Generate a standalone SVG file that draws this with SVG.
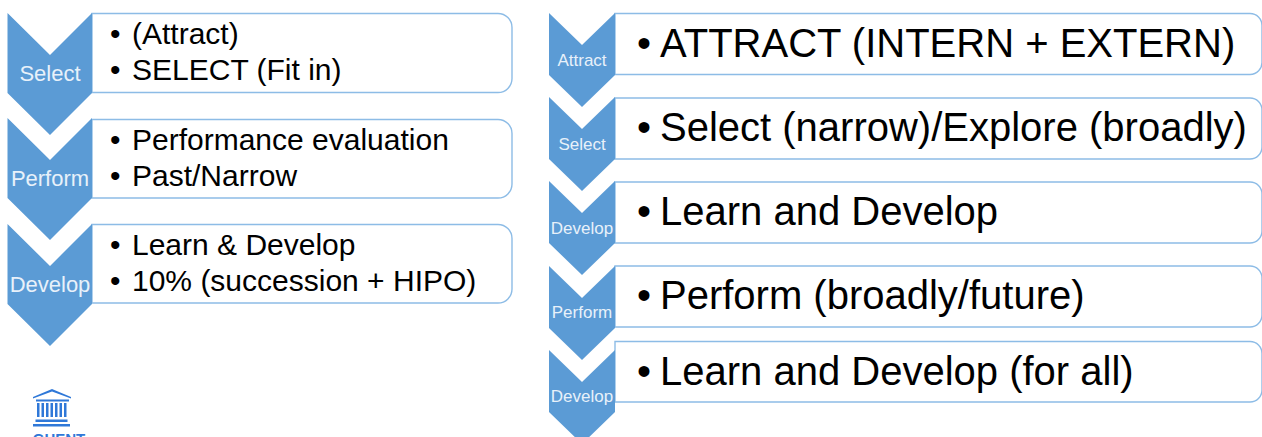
<svg xmlns="http://www.w3.org/2000/svg" width="1262" height="437" viewBox="0 0 1262 437">
<style>
.c{fill:#5b9bd5}
.b{fill:#fff;stroke:#8dbce6;stroke-width:1.4}
.l{fill:#e8f1fa;font-family:"Liberation Sans",Arial,sans-serif;text-anchor:middle}
.s{font-size:22px}
.r{font-size:17px}
.t{fill:#000;font-family:"Liberation Sans",Arial,sans-serif}
.m{font-size:30px}
.g{font-size:40px}
.ic{fill:#2f78d8}
</style>
<rect width="1262" height="437" fill="#fff"/>
<g id="connectors"></g>
<g id="left-select">
<path class="b" d="M92 13.500H498a14 14 0 0 1 14 14V78.500a14 14 0 0 1-14 14H92Z"/>
<path class="c" d="M7.500 13L50 55L92 13V93L50 135L7.500 93Z"/>
<text class="l s" x="50" y="81">Select</text>
<text class="t m" x="110" y="44">•</text><text class="t m" x="132" y="44">(Attract)</text>
<text class="t m" x="110" y="80">•</text><text class="t m" x="132" y="80">SELECT (Fit in)</text>
</g>
<g id="left-perform">
<path class="b" d="M92 119.500H498a14 14 0 0 1 14 14V184a14 14 0 0 1-14 14H92Z"/>
<path class="c" d="M7.500 118L50 160L92 118V198L50 240L7.500 198Z"/>
<text class="l s" x="50" y="186">Perform</text>
<text class="t m" x="110" y="150">•</text><text class="t m" x="132" y="150">Performance evaluation</text>
<text class="t m" x="110" y="186">•</text><text class="t m" x="132" y="186">Past/Narrow</text>
</g>
<g id="left-develop">
<path class="b" d="M92 224.500H498a14 14 0 0 1 14 14V289a14 14 0 0 1-14 14H92Z"/>
<path class="c" d="M7.500 224L50 266L92 224V304L50 346L7.500 304Z"/>
<text class="l s" x="50" y="292">Develop</text>
<text class="t m" x="110" y="255">•</text><text class="t m" x="132" y="255">Learn &amp; Develop</text>
<text class="t m" x="110" y="291">•</text><text class="t m" x="132" y="291">10% (succession + HIPO)</text>
</g>
<g id="logo">
<path class="ic" d="M33 397L52 389L71 397V398.500L52 391.500L33 398.500Z"/>
<rect class="ic" x="36" y="399.500" width="33" height="2"/>
<path class="ic" d="M37 403h2.500v14H37zM41.500 403h2.500v14h-2.500zM46 403h2.500v14H46zM50.500 403h2.500v14h-2.500zM55 403h2.500v14H55zM59.500 403h2.500v14h-2.500zM64 403h2.500v14H64z"/>
<rect class="ic" x="35.500" y="419.500" width="32" height="2.500"/>
<rect class="ic" x="33" y="424" width="37" height="2.500"/>
<text x="59" y="444" font-family="'Liberation Sans',Arial,sans-serif" font-size="15" font-weight="700" fill="#2f78d8" text-anchor="middle">GHENT</text>
</g>
<g id="right-attract">
<path class="b" d="M615 13.500H1250a12 12 0 0 1 12 12V62a12 12 0 0 1-12 12.500H615Z"/>
<path class="c" d="M549 13L582 45L615 13V75L582 107L549 75Z"/>
<text class="l r" x="582" y="66">Attract</text>
<text class="t g" x="637" y="57">•</text><text class="t g" x="660" y="57">ATTRACT (INTERN + EXTERN)</text>
</g>
<g id="right-select">
<path class="b" d="M615 98H1250a12 12 0 0 1 12 12V147a12 12 0 0 1-12 12H615Z"/>
<path class="c" d="M549 97L582 129L615 97V159L582 191L549 159Z"/>
<text class="l r" x="582" y="150">Select</text>
<text class="t g" x="637" y="141">•</text><text class="t g" x="660" y="141">Select (narrow)/Explore (broadly)</text>
</g>
<g id="right-develop-1">
<path class="b" d="M615 182H1250a12 12 0 0 1 12 12V231a12 12 0 0 1-12 12H615Z"/>
<path class="c" d="M549 181L582 213L615 181V243L582 275L549 243Z"/>
<text class="l r" x="582" y="234">Develop</text>
<text class="t g" x="637" y="225">•</text><text class="t g" x="660" y="225">Learn and Develop</text>
</g>
<g id="right-perform">
<path class="b" d="M615 266H1250a12 12 0 0 1 12 12V315a12 12 0 0 1-12 12H615Z"/>
<path class="c" d="M549 266L582 298L615 266V328L582 360L549 328Z"/>
<text class="l r" x="582" y="318">Perform</text>
<text class="t g" x="637" y="309">•</text><text class="t g" x="660" y="309">Perform (broadly/future)</text>
</g>
<g id="right-develop-2">
<path class="b" d="M615 341.500H1250a12 12 0 0 1 12 12V390a12 12 0 0 1-12 12H615Z"/>
<path class="c" d="M549 350L582 382L615 350V412L582 444L549 412Z"/>
<text class="l r" x="582" y="402">Develop</text>
<text class="t g" x="637" y="385">•</text><text class="t g" x="660" y="385">Learn and Develop (for all)</text>
</g>
</svg>
